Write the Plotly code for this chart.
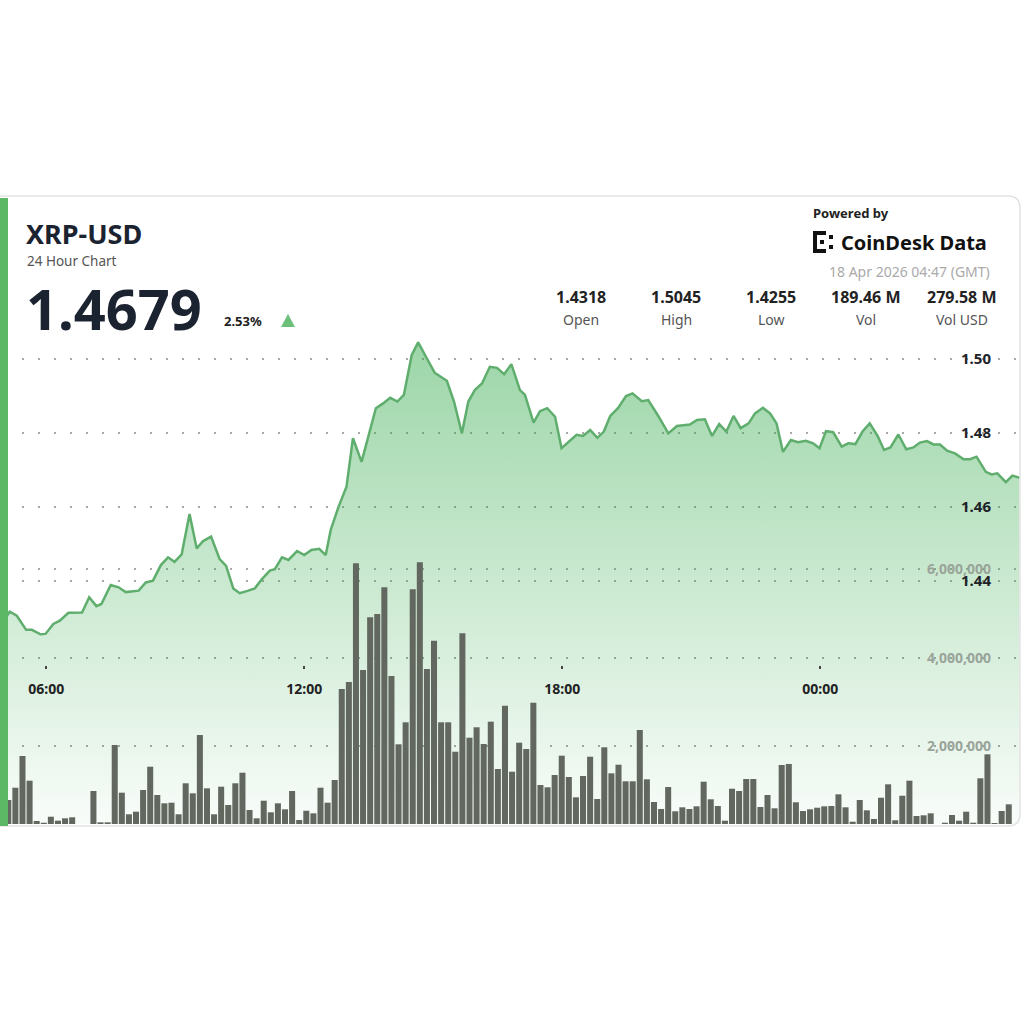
import plotly.graph_objects as go
import pandas as pd

# ---------------- data ----------------
BASE = "2026-04-17 05:00"
# price readings: minutes after 05:00 (17 Apr), price in USD
price_minutes = [5, 9, 19, 32, 40, 52, 59, 70, 79, 91,
                 110, 120, 130, 137, 150, 161, 171, 189, 199, 209,
                 220, 230, 239, 249, 260, 270, 279, 290, 302, 311,
                 321, 330, 342, 351, 361, 372, 379, 389, 398, 410,
                 420, 430, 441, 450, 457, 468, 479, 488, 500, 509,
                 520, 530, 540, 550, 559, 570, 579, 591, 602, 619,
                 629, 640, 649, 658, 668, 679, 689, 699, 709, 721,
                 728, 740, 749, 759, 770, 779, 791, 800, 809, 819,
                 829, 838, 847, 858, 869, 878, 891, 900, 914, 928,
                 940, 958, 968, 979, 989, 999, 1009, 1019, 1029, 1040,
                 1049, 1060, 1070, 1079, 1088, 1099, 1109, 1120, 1130, 1139,
                 1148, 1158, 1170, 1179, 1189, 1199, 1209, 1220, 1229, 1238,
                 1249, 1260, 1270, 1279, 1289, 1298, 1307, 1317, 1328, 1340,
                 1349, 1358, 1371, 1379, 1387, 1399, 1408, 1418]
price_values = [1.4305, 1.4317, 1.4306, 1.4268, 1.4268, 1.4256, 1.4257, 1.4284, 1.4293, 1.4314,
                1.4315, 1.4356, 1.4332, 1.4338, 1.4389, 1.4383, 1.4370, 1.4374, 1.4396, 1.4401,
                1.4443, 1.4464, 1.4452, 1.4472, 1.4581, 1.4488, 1.4508, 1.4520, 1.4459, 1.4441,
                1.4380, 1.4367, 1.4374, 1.4380, 1.4405, 1.4428, 1.4432, 1.4464, 1.4457, 1.4481,
                1.4470, 1.4484, 1.4487, 1.4470, 1.4538, 1.4601, 1.4655, 1.4786, 1.4722, 1.4790,
                1.4867, 1.4880, 1.4895, 1.4885, 1.4903, 1.5011, 1.5045, 1.5002, 1.4963, 1.4941,
                1.4885, 1.4799, 1.4885, 1.4916, 1.4934, 1.4979, 1.4976, 1.4959, 1.4986, 1.4916,
                1.4903, 1.4828, 1.4859, 1.4867, 1.4844, 1.4759, 1.4781, 1.4795, 1.4792, 1.4808,
                1.4787, 1.4804, 1.4846, 1.4868, 1.4900, 1.4907, 1.4886, 1.4889, 1.4846, 1.4799,
                1.4819, 1.4823, 1.4835, 1.4837, 1.4792, 1.4824, 1.4804, 1.4846, 1.4813, 1.4826,
                1.4853, 1.4868, 1.4853, 1.4826, 1.4749, 1.4781, 1.4775, 1.4779, 1.4772, 1.4759,
                1.4805, 1.4802, 1.4763, 1.4772, 1.4770, 1.4804, 1.4826, 1.4792, 1.4754, 1.4761,
                1.4796, 1.4756, 1.4761, 1.4774, 1.4778, 1.4769, 1.4769, 1.4752, 1.4745, 1.4729,
                1.4729, 1.4736, 1.4695, 1.4688, 1.4691, 1.4667, 1.4685, 1.4679]

# volume bars (millions of XRP)
volume_millions = [0.771, 1.050, 1.769, 1.209, 0.295, 0.256, 0.392, 0.302, 0.356, 0.379,
                   0.0, 0.0, 0.975, 0.265, 0.265, 2.018, 0.937, 0.447, 0.506, 0.998,
                   1.526, 0.884, 0.696, 0.710, 0.447, 1.150, 0.923, 2.245, 1.036, 0.447,
                   1.073, 0.658, 1.150, 1.390, 0.544, 0.356, 0.755, 0.492, 0.696, 0.560,
                   0.975, 0.317, 0.528, 0.469, 1.050, 0.710, 1.224, 3.288, 3.447, 6.138,
                   3.719, 4.914, 4.989, 5.594, 3.583, 2.034, 2.533, 5.549, 6.161, 3.742,
                   4.383, 2.533, 2.533, 1.866, 4.551, 2.184, 2.420, 2.041, 2.547, 1.474,
                   2.909, 1.413, 2.070, 1.927, 2.977, 1.111, 1.059, 1.338, 1.776, 1.293,
                   0.832, 1.315, 1.753, 0.794, 1.966, 1.376, 1.571, 1.195, 1.195, 2.358,
                   1.240, 0.726, 0.567, 1.066, 0.515, 0.605, 0.567, 0.628, 1.186, 0.787,
                   0.635, 0.302, 1.027, 0.975, 1.247, 1.247, 0.612, 0.884, 0.583, 1.565,
                   1.587, 0.719, 0.522, 0.560, 0.596, 0.628, 0.635, 0.900, 0.605, 0.279,
                   0.771, 0.537, 0.340, 0.823, 1.127, 0.311, 0.868, 1.209, 0.408, 0.424,
                   0.469, 0.0, 0.256, 0.431, 0.302, 0.506, 0.256, 1.263, 1.807, 0.249,
                   0.522, 0.673]
bar_start = "2026-04-17 05:07:06"
bar_step = "594s"

x_range = ["2026-04-17 05:03:54", "2026-04-18 04:38:42"]
time_ticks = ["2026-04-17 06:00", "2026-04-17 12:00", "2026-04-17 18:00", "2026-04-18 00:00"]
time_tick_labels = ["06:00", "12:00", "18:00", "00:00"]
price_ticks = [1.44, 1.46, 1.48, 1.50]
price_range = [1.374324, 1.507838]
volume_ticks = [2e6, 4e6, 6e6]
volume_tick_labels = ["2,000,000", "4,000,000", "6,000,000"]
volume_range = [226760, 11428700]

pair = "XRP-USD"
subtitle = "24 Hour Chart"
last_price = "1.4679"
change = "2.53%"
stat_values = ["1.4318", "1.5045", "1.4255", "189.46 M", "279.58 M"]
stat_labels = ["Open", "High", "Low", "Vol", "Vol USD"]
timestamp = "18 Apr 2026 04:47 (GMT)"

# ---------------- layout helpers ----------------
W, H = 1024, 1024
L, R, T, B = 6, 4, 330, 200
PW, PH = W - L - R, H - T - B


def fx(x):
    return (x - L) / PW


def fy(y):
    return (H - B - y) / PH


FONT = "Noto Sans"

base = pd.Timestamp(BASE)
price_times = [base + pd.Timedelta(minutes=m) for m in price_minutes]
bar_times = pd.date_range(bar_start, periods=len(volume_millions), freq=bar_step)

fig = go.Figure()
fig.add_trace(go.Scatter(
    x=price_times, y=price_values, mode="lines",
    line=dict(color="#5fae6e", width=2.5),
    fill="tozeroy",
    fillgradient=dict(type="vertical", start=1.3743, stop=1.505,
                      colorscale=[[0, "rgba(40,165,65,0.03)"], [1, "rgba(40,165,65,0.46)"]]),
    xaxis="x", yaxis="y", hoverinfo="skip", showlegend=False))
fig.add_trace(go.Bar(
    x=bar_times, y=[v * 1e6 for v in volume_millions],
    marker=dict(color="#62685f", line=dict(width=0)),
    xaxis="x2", yaxis="y2", hoverinfo="skip", showlegend=False))

grid = dict(showgrid=True, gridcolor="#a8a8a8", griddash="2px,14px", gridwidth=1.6)

fig.update_layout(
    width=W, height=H, margin=dict(l=L, r=R, t=T, b=B),
    paper_bgcolor="white", plot_bgcolor="white",
    bargap=0.15, showlegend=False,
    xaxis=dict(range=x_range, type="date", showgrid=False, showticklabels=False,
               zeroline=False, showline=False, ticks=""),
    xaxis2=dict(range=x_range, type="date", overlaying="x", anchor="free",
                position=fy(665), tickvals=time_ticks, ticktext=time_tick_labels,
                ticks="outside", ticklen=3, tickwidth=2, tickcolor="#444",
                showgrid=False, showline=False, zeroline=False,
                tickfont=dict(family=FONT, size=14, color="#222", weight="bold"),
                ticklabelstandoff=8),
    yaxis=dict(range=price_range, side="right", tickvals=price_ticks, tickformat=".2f",
               ticklabelposition="inside", zeroline=False, showline=False, ticks="",
               tickfont=dict(family=FONT, size=15, color="#1e2328", weight="bold"),
               ticklabelstandoff=26, **grid),
    yaxis2=dict(range=volume_range, overlaying="y", side="right", anchor="free", position=1,
                tickvals=volume_ticks, ticktext=volume_tick_labels,
                ticklabelposition="inside", zeroline=False, showline=False, ticks="",
                tickfont=dict(family=FONT, size=14, color="#9aa49a", weight="bold"),
                ticklabelstandoff=26, **grid),
)

ann = []


def text(s, x, y, size, color, xanchor="left", bold=False):
    ann.append(dict(text=s, x=fx(x), y=fy(y), xref="paper", yref="paper",
                    xanchor=xanchor, yanchor="middle", showarrow=False, borderpad=0,
                    font=dict(family=FONT, size=size, color=color,
                              weight="bold" if bold else "normal")))


text(pair, 25, 234, 27, "#1b2331", bold=True)
text(subtitle, 26, 261, 13.5, "#555555")
text(last_price, 25, 308, 56, "#1b2331", bold=True)
text(change, 223, 321, 13, "#222222", bold=True)
text("Powered by", 812, 213, 13, "#222222", bold=True)
text("CoinDesk Data", 840, 243, 20, "#111111", bold=True)
text(timestamp, 991, 271, 14, "#aaaaaa", xanchor="right")
stat_x = [581, 676, 771, 866, 962]
for sx, v, lab in zip(stat_x, stat_values, stat_labels):
    text(v, sx, 297, 16, "#222222", xanchor="center", bold=True)
    text(lab, sx, 319, 14, "#555555", xanchor="center")

fig.update_layout(annotations=ann)

shapes = []
# card outline
x0, x1, y0, y1, rr = fx(0), fx(1020), fy(826), fy(196), 12
rx, ry = rr / PW, rr / PH
card_path = (f"M {x0},{y1} L {x1 - rx},{y1} Q {x1},{y1} {x1},{y1 - ry} "
             f"L {x1},{y0 + ry} Q {x1},{y0} {x1 - rx},{y0} L {x0},{y0}")
shapes.append(dict(type="path", path=card_path, xref="paper", yref="paper",
                   line=dict(color="#e2e2e2", width=1.5), layer="above"))
# green strip
shapes.append(dict(type="rect", xref="paper", yref="paper", x0=fx(0), x1=fx(8),
                   y0=fy(826), y1=fy(198), fillcolor="#5cb865", line=dict(width=0), layer="above"))
# up triangle
shapes.append(dict(type="path", xref="paper", yref="paper",
                   path=f"M {fx(281)},{fy(327)} L {fx(295)},{fy(327)} L {fx(288)},{fy(314)} Z",
                   fillcolor="#6cc07a", line=dict(width=0), layer="above"))
# CoinDesk icon
for (a, b, c, d) in [(813, 231, 817, 253), (813, 231, 826, 235), (813, 249, 826, 253),
                     (820, 240, 824, 244), (829, 235, 833, 239), (829, 245, 833, 249)]:
    shapes.append(dict(type="rect", xref="paper", yref="paper", x0=fx(a), x1=fx(c),
                       y0=fy(d), y1=fy(b), fillcolor="#111111", line=dict(width=0), layer="above"))
fig.update_layout(shapes=shapes)

fig.write_html("out.html")
